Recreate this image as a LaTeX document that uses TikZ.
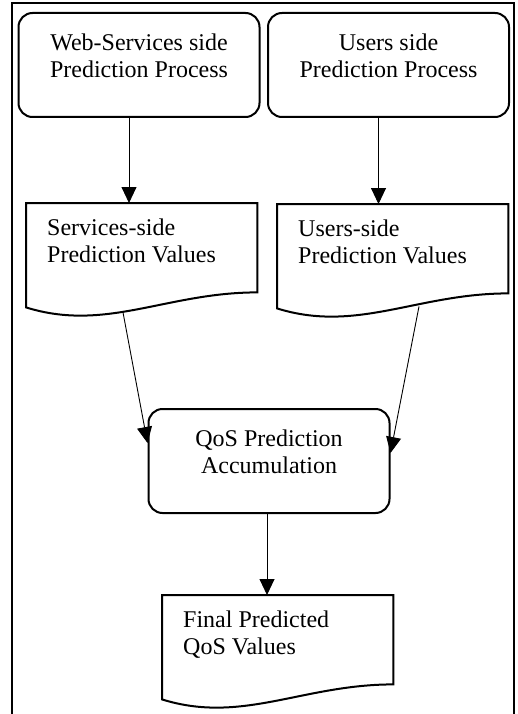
\documentclass[tikz,border=0pt]{standalone}
\usepackage{fontspec}
\setmainfont{Liberation Serif}
\usetikzlibrary{arrows.meta}

\begin{document}
\begin{tikzpicture}[x=1pt,y=-1pt,
    font=\fontsize{24}{27}\selectfont,
    procbox/.style={draw,line width=2pt,rounded corners=14pt,
        minimum width=241pt,minimum height=104pt,
        text width=220pt,align=flush center,text height=16pt,text depth=45pt},
    docbox/.style={anchor=north west,minimum width=231pt,minimum height=104pt,
        inner xsep=21pt,text width=189pt,align=flush left,
        text height=16pt,text depth=56pt},
    flow/.style={-{Triangle[length=16pt,width=15pt]},line width=0.9pt}
]
    \useasboundingbox (0,0) rectangle (517,714);
    % frame
    \draw[line width=2.2pt] (12,714) -- (12,3) -- (514,3) -- (514,714);

    \node[procbox] (web) at (139,65) {Web-Services side\\Prediction Process};
    \node[procbox] (users) at (388.5,65) {Users side\\Prediction Process};

    \node[docbox] (svals) at (26,203) {Services-side\\Prediction Values};
    \node[docbox] (uvals) at (277,204) {Users-side\\Prediction Values};

    \node[procbox] (qos) at (269,461) {QoS Prediction\\Accumulation};

    \node[docbox] (final) at (162,595) {Final Predicted\\QoS Values};

    % document outlines
    \foreach \d in {svals,uvals,final}
        \draw[line width=2pt] (\d.north west) -- (\d.north east)
            -- ([yshift=15pt]\d.south east) .. controls +(-91,0) and +(80,25) .. (\d.south west) -- cycle;

    \draw[flow] ([xshift=-10pt]web.south) -- ([xshift=-10pt]web.south |- svals.north);
    \draw[flow] ([xshift=-10pt]users.south) -- ([xshift=-10pt]users.south |- uvals.north);
    \draw[flow] ([xshift=97pt,yshift=-5pt]svals.south west) -- ([yshift=18pt]qos.west);
    \draw[flow] ([xshift=142pt,yshift=2pt]uvals.south west) -- ([yshift=8pt]qos.east);
    \draw[flow] ([xshift=-2pt]qos.south) -- ([xshift=-2pt]qos.south |- final.north);

\end{tikzpicture}
\end{document}
